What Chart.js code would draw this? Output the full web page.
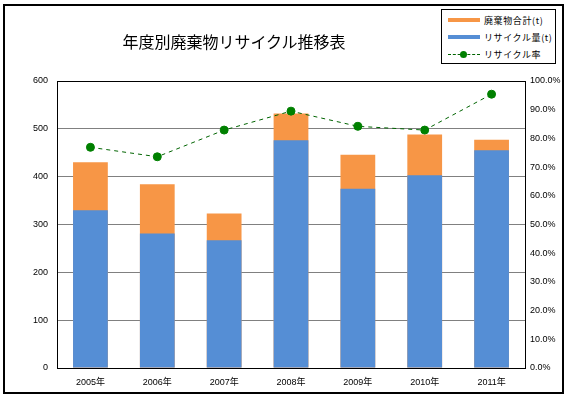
<!DOCTYPE html>
<html lang="ja">
<head>
<meta charset="utf-8">
<script src="https://cdn.jsdelivr.net/npm/chart.js@4.4.1/dist/chart.umd.min.js"></script>
<style>
  body { margin: 0; background: #fff; }
  #wrap { position: relative; width: 568px; height: 397px; }
  #frame { position: absolute; left: 3px; top: 4px; width: 557px; height: 386px; border: 2px solid #000; pointer-events: none; }
  #titulo { position: absolute; left: 114px; width: 240px; top: 29px; text-align: center;
    font-family: "Noto Sans CJK JP", sans-serif; font-size: 16px; color: #000; }
  #leyenda { position: absolute; left: 441px; top: 9px; width: 113px; height: 53px; border: 1px solid #000; background: #fff;
    font-family: "Noto Sans CJK JP", sans-serif; font-size: 9px; letter-spacing: 0.6px; color: #000; }
  .item { position: absolute; left: 6px; height: 12px; display: flex; align-items: center; }
  .sym { width: 32px; height: 4px; margin-right: 4px; position: relative; }
  .sym.linea { height: 0; border-top: 1px dashed #006400; }
  .sym.linea span { position: absolute; left: 12px; top: -4px; width: 7px; height: 7px; border-radius: 50%; background: #008000; }
</style>
</head>
<body>
<div id="wrap">
  <canvas id="grafica" width="568" height="397"></canvas>
  <div id="titulo">年度別廃棄物リサイクル推移表</div>
  <div id="leyenda"></div>
  <div id="frame"></div>
</div>
<script>
// datos
const anios = ['2005年', '2006年', '2007年', '2008年', '2009年', '2010年', '2011年'];
const totalResiduos = [430, 384, 323, 532, 446, 488, 477];   // 廃棄物合計(t)
const reciclado = [330, 281, 267, 476, 375, 403, 455];       // リサイクル量(t)
const tasaReciclaje = [76.9, 73.6, 82.9, 89.5, 84.2, 82.9, 95.4]; // リサイクル率 (%)

const colorNaranja = '#F79646';
const colorAzul = '#558ED5';
const colorVerde = '#008000';

const fuente = { family: 'Liberation Sans, "Noto Sans CJK JP", sans-serif', size: 9 };

const data = {
    labels: anios,
    datasets: [
        {
            type: 'line',
            label: 'リサイクル率',
            data: tasaReciclaje,
            yAxisID: 'y1',
            borderColor: '#006400',
            borderWidth: 1,
            borderDash: [4, 4],
            pointBackgroundColor: colorVerde,
            pointBorderColor: colorVerde,
            pointRadius: 4,
            fill: false,
            tension: 0,
            order: 0
        },
        {
            type: 'bar',
            label: 'リサイクル量(t)',
            data: reciclado,
            yAxisID: 'y',
            backgroundColor: colorAzul,
            grouped: false,
            categoryPercentage: 1,
            barPercentage: 0.52,
            order: 1
        },
        {
            type: 'bar',
            label: '廃棄物合計(t)',
            data: totalResiduos,
            yAxisID: 'y',
            backgroundColor: colorNaranja,
            grouped: false,
            categoryPercentage: 1,
            barPercentage: 0.52,
            order: 2
        }
    ]
};

const config = {
    data: data,
    options: {
        responsive: false,
        animation: false,
        layout: { padding: { top: 81, left: 0, right: 0, bottom: 0 } },
        plugins: {
            legend: { display: false },
            title: { display: false },
            tooltip: { enabled: false }
        },
        scales: {
            x: {
                grid: { display: false, drawTicks: false },
                border: { display: true, color: '#000', width: 1 },
                ticks: { color: '#000', font: fuente, padding: 9, maxRotation: 0 },
                afterFit: (scale) => { scale.height = 29; }
            },
            y: {
                position: 'left',
                min: 0,
                max: 600,
                ticks: { stepSize: 100, color: '#000', font: fuente, padding: 9 },
                grid: {
                    drawTicks: false,
                    color: (ctx) => (ctx.tick && (ctx.tick.value === 600 || ctx.tick.value === 0)) ? '#000' : '#808080',
                    lineWidth: 1
                },
                border: { display: true, color: '#000', width: 1 },
                afterFit: (scale) => { scale.width = 57; }
            },
            y1: {
                position: 'right',
                min: 0,
                max: 100,
                ticks: {
                    stepSize: 10,
                    color: '#000',
                    font: fuente,
                    padding: 5,
                    callback: (v) => v.toFixed(1) + '%'
                },
                grid: { display: false, drawTicks: false },
                border: { display: true, color: '#000', width: 1 },
                afterFit: (scale) => { scale.width = 43; }
            }
        }
    }
};

const ctx = document.getElementById('grafica').getContext('2d');
const grafica = new Chart(ctx, config);

// leyenda en HTML (orden como en la imagen)
function armarLeyenda() {
    const caja = document.getElementById('leyenda');
    const items = [
        { texto: data.datasets[2].label, color: colorNaranja, tipo: 'barra' },
        { texto: data.datasets[1].label, color: colorAzul, tipo: 'barra' },
        { texto: data.datasets[0].label, color: colorVerde, tipo: 'linea' }
    ];
    items.forEach((it, i) => {
        const div = document.createElement('div');
        div.className = 'item';
        div.style.top = (4 + i * 17) + 'px';
        const sym = document.createElement('div');
        if (it.tipo === 'barra') {
            sym.className = 'sym';
            sym.style.background = it.color;
        } else {
            sym.className = 'sym linea';
            sym.appendChild(document.createElement('span'));
        }
        const txt = document.createElement('span');
        txt.textContent = it.texto;
        div.appendChild(sym);
        div.appendChild(txt);
        caja.appendChild(div);
    });
}
armarLeyenda();
</script>
</body>
</html>
